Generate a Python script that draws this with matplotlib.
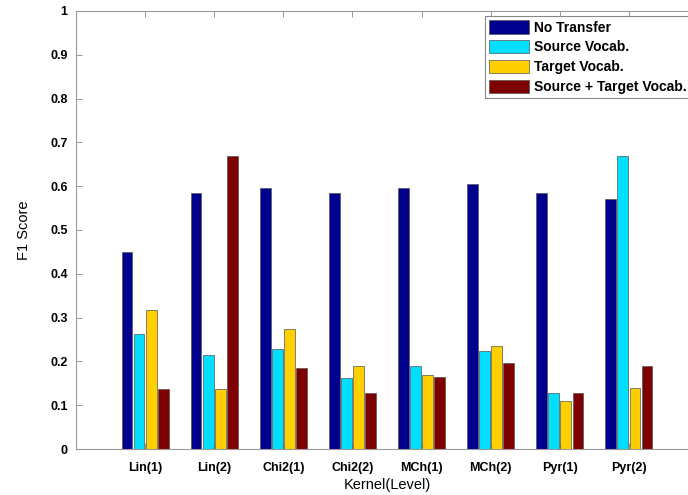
import numpy as np
import matplotlib.pyplot as plt

plt.rcParams['font.family'] = ['Liberation Sans', 'DejaVu Sans']

kernels = ['Lin(1)', 'Lin(2)', 'Chi2(1)', 'Chi2(2)', 'MCh(1)', 'MCh(2)', 'Pyr(1)', 'Pyr(2)']
series_names = ['No Transfer', 'Source Vocab.', 'Target Vocab.', 'Source + Target Vocab.']

no_transfer = [0.45, 0.585, 0.595, 0.585, 0.595, 0.605, 0.585, 0.57]
source_vocab = [0.262, 0.215, 0.228, 0.162, 0.19, 0.224, 0.127, 0.668]
target_vocab = [0.318, 0.138, 0.273, 0.19, 0.169, 0.235, 0.11, 0.14]
source_target = [0.138, 0.668, 0.186, 0.127, 0.164, 0.196, 0.127, 0.189]

colors = ['#00008F', '#00DFFF', '#FFCF00', '#7F0000']
scores = [no_transfer, source_vocab, target_vocab, source_target]

fig = plt.figure(figsize=(6.88, 4.95), dpi=100)
ax = fig.add_axes([76/688, 46/495, 622/688, 438/495])

x = np.arange(1, len(kernels) + 1)
slot = 0.175
for k in range(4):
    ax.bar(x + (k - 1.5)*slot, scores[k], width=0.155, color=colors[k],
           edgecolor='#555555', linewidth=0.5, label=series_names[k], zorder=2)

ax.set_xlim(0, 9)
ax.set_ylim(0, 1)
ax.set_xticks(x)
ax.set_xticklabels(kernels, fontsize=9, fontweight='bold')
yt = np.round(np.arange(0, 1.01, 0.1), 1)
ax.set_yticks(yt)
ax.set_yticklabels(['%g' % v for v in yt], fontsize=9, fontweight='bold')
ax.tick_params(direction='in', length=4, width=0.6, color='#888888', top=True)
ax.tick_params(axis='x', pad=9)
ax.tick_params(axis='y', pad=6)
for s in ax.spines.values():
    s.set_color('#999999')
    s.set_linewidth(0.8)

ax.set_xlabel('Kernel(Level)', fontsize=10.5, labelpad=3)
ax.set_ylabel('F1 Score', fontsize=10.5, labelpad=14)

# legend runs past the right edge of the figure
leg = ax.legend(loc='upper left', bbox_to_anchor=(485/688, 1 - 16/495),
                bbox_transform=fig.transFigure, borderaxespad=0,
                prop={'weight': 'bold', 'size': 10}, handlelength=2.9,
                handleheight=1.1, labelspacing=0.39, handletextpad=0.3,
                fancybox=False, framealpha=1, borderpad=0.3)
leg.get_frame().set_edgecolor('#888888')
leg.get_frame().set_linewidth(0.8)
for h in leg.legend_handles:
    h.set_edgecolor('#555555')

fig.savefig('out.png', dpi=100)
